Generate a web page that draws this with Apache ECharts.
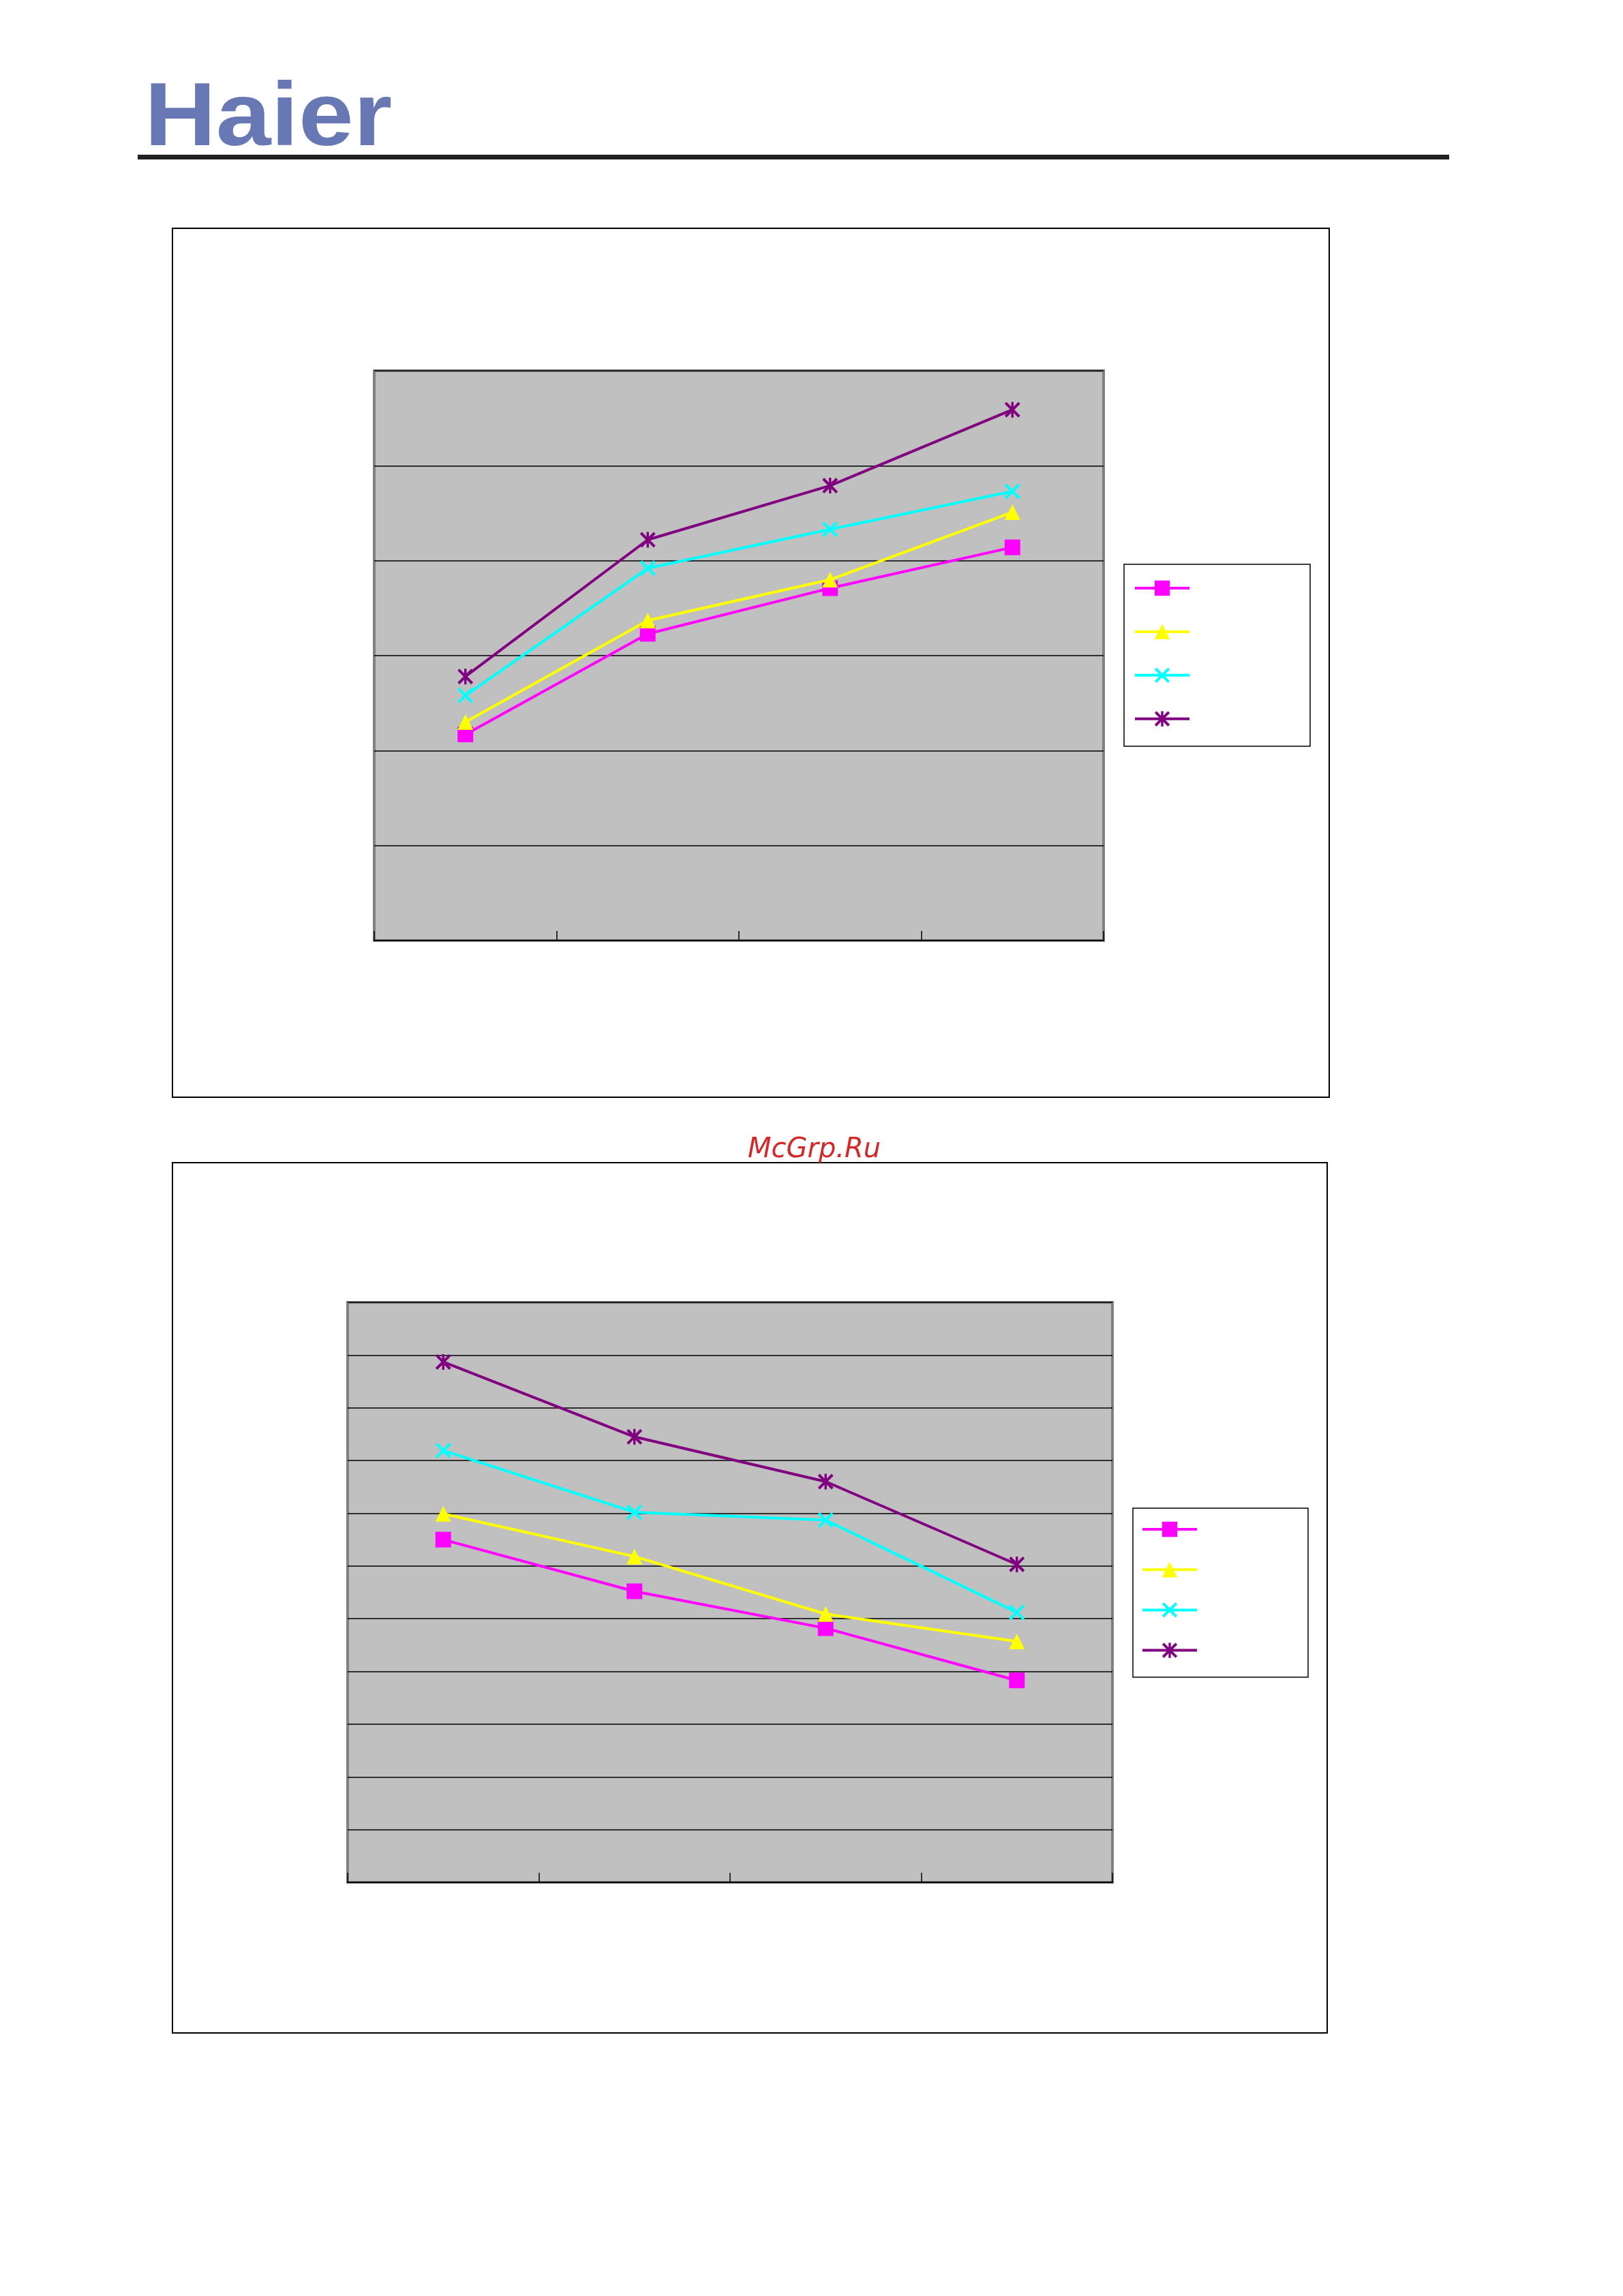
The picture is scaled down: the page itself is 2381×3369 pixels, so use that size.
<!DOCTYPE html>
<html>
<head>
<meta charset="utf-8">
<script src="https://cdn.jsdelivr.net/npm/echarts@6/dist/echarts.min.js"></script>
<style>
html,body{margin:0;padding:0;background:#ffffff;}
#c{width:2381px;height:3369px;}
</style>
</head>
<body>
<div id="c"></div>
<script>
// ---------- data (no axis text is printed) ----------
const categoriesTop = ['1', '2', '3', '4'];
const topMagenta = [2.17, 3.23, 3.71, 4.14];
const topYellow  = [2.30, 3.37, 3.80, 4.51];
const topCyan    = [2.58, 3.92, 4.33, 4.73];
const topPurple  = [2.78, 4.22, 4.79, 5.59];
const topAxisMin = 0, topAxisMax = 6, topAxisStep = 1;

const categoriesBottom = ['1', '2', '3', '4'];
const botMagenta = [6.50, 5.52, 4.82, 3.83];
const botYellow  = [6.99, 6.18, 5.09, 4.57];
const botCyan    = [8.19, 7.02, 6.87, 5.12];
const botPurple  = [9.87, 8.45, 7.60, 6.03];
const botAxisMin = 0, botAxisMax = 11, botAxisStep = 1;

const topNames = ['top-1', 'top-2', 'top-3', 'top-4'];
const botNames = ['bottom-1', 'bottom-2', 'bottom-3', 'bottom-4'];

// ---------- styling ----------
const COLORS = ['#FF00FF', '#FFFF00', '#00FFFF', '#800080'];
const X_PATH = 'path://M0,2.5L2.5,0L20,17.5L17.5,20Z M17.5,0L20,2.5L2.5,20L0,17.5Z';
const STAR_PATH = 'path://M0,2.5L2.5,0L20,17.5L17.5,20Z M17.5,0L20,2.5L2.5,20L0,17.5Z M8.5,0L11.5,0L11.5,20L8.5,20Z';
const SYMBOLS = ['rect', 'triangle', X_PATH, STAR_PATH];

function mkSeries(name, data, idx, axisIdx) {
  return {
    type: 'line',
    name: name,
    data: data,
    xAxisIndex: axisIdx,
    yAxisIndex: axisIdx,
    symbol: SYMBOLS[idx],
    symbolSize: 23,
    showSymbol: true,
    animation: false,
    z: 3 + idx,
    lineStyle: { color: COLORS[idx], width: 4 },
    itemStyle: { color: COLORS[idx], borderWidth: 0 },
    emphasis: { disabled: true }
  };
}

function mkX(idx, cats) {
  return {
    type: 'category', gridIndex: idx, data: cats, boundaryGap: true,
    axisLine: { show: true, onZero: false, lineStyle: { color: '#000', width: 2 } },
    axisTick: { show: true, inside: true, length: 14, lineStyle: { color: '#000', width: 1.5 } },
    axisLabel: { show: false },
    splitLine: { show: false }
  };
}
function mkY(idx, mn, mx, step) {
  return {
    type: 'value', gridIndex: idx, min: mn, max: mx, interval: step,
    axisLine: { show: false },
    axisTick: { show: false },
    axisLabel: { show: false },
    splitLine: { show: true, lineStyle: { color: '#000', width: 1.5 } }
  };
}

const chart = echarts.init(document.getElementById('c'), null, { renderer: 'canvas' });

const legendBase = {
  orient: 'vertical', padding: 0, itemWidth: 80, itemHeight: 28,
  selectedMode: false, formatter: function () { return ''; },
  textStyle: { fontSize: 1 },
  lineStyle: { width: 4 }
};

const option = {
  backgroundColor: '#ffffff',
  animation: false,
  grid: [
    { left: 549, top: 544, width: 1070, height: 836, show: true,
      backgroundColor: '#C0C0C0', borderColor: '#808080', borderWidth: 4 },
    { left: 510, top: 1911, width: 1122, height: 851, show: true,
      backgroundColor: '#C0C0C0', borderColor: '#808080', borderWidth: 4 }
  ],
  xAxis: [mkX(0, categoriesTop), mkX(1, categoriesBottom)],
  yAxis: [mkY(0, topAxisMin, topAxisMax, topAxisStep), mkY(1, botAxisMin, botAxisMax, botAxisStep)],
  legend: [
    Object.assign({}, legendBase, { data: topNames, left: 1663, top: 849, itemGap: 38.7 }),
    Object.assign({}, legendBase, { data: botNames, left: 1674, top: 2230, itemGap: 34 })
  ],
  graphic: [
    // Haier header logo text and rule
    { type: 'text', x: 212, y: 111, scaleX: 1.1, scaleY: 1, z: 10,
      style: { x: 0, y: 0, text: 'Haier', fill: '#6878B4', verticalAlign: 'top',
               font: 'bold 132px "Liberation Sans", Arial, sans-serif' } },
    { type: 'rect', shape: { x: 202, y: 227, width: 1924, height: 7 }, style: { fill: '#222222' }, z: 10 },
    // chart frames
    { type: 'rect', shape: { x: 253, y: 335, width: 1697, height: 1275 },
      style: { fill: 'transparent', stroke: '#000', lineWidth: 2 }, z: 10 },
    { type: 'rect', shape: { x: 253, y: 1706, width: 1694, height: 1277 },
      style: { fill: 'transparent', stroke: '#000', lineWidth: 2 }, z: 10 },
    // legend boxes
    { type: 'rect', shape: { x: 1649, y: 828, width: 273, height: 267 },
      style: { fill: 'transparent', stroke: '#000', lineWidth: 1.5 }, z: 10 },
    { type: 'rect', shape: { x: 1662, y: 2213, width: 257, height: 248 },
      style: { fill: 'transparent', stroke: '#000', lineWidth: 1.5 }, z: 10 },
    // watermark
    { type: 'text', left: 1097, top: 1668, z: 10,
      style: { text: 'McGrp.Ru', fill: '#D42828', font: 'italic 40px "DejaVu Sans", sans-serif' } }
  ],
  series: [
    mkSeries(topNames[0], topMagenta, 0, 0),
    mkSeries(topNames[1], topYellow, 1, 0),
    mkSeries(topNames[2], topCyan, 2, 0),
    mkSeries(topNames[3], topPurple, 3, 0),
    mkSeries(botNames[0], botMagenta, 0, 1),
    mkSeries(botNames[1], botYellow, 1, 1),
    mkSeries(botNames[2], botCyan, 2, 1),
    mkSeries(botNames[3], botPurple, 3, 1)
  ]
};
chart.setOption(option);
</script>
</body>
</html>
